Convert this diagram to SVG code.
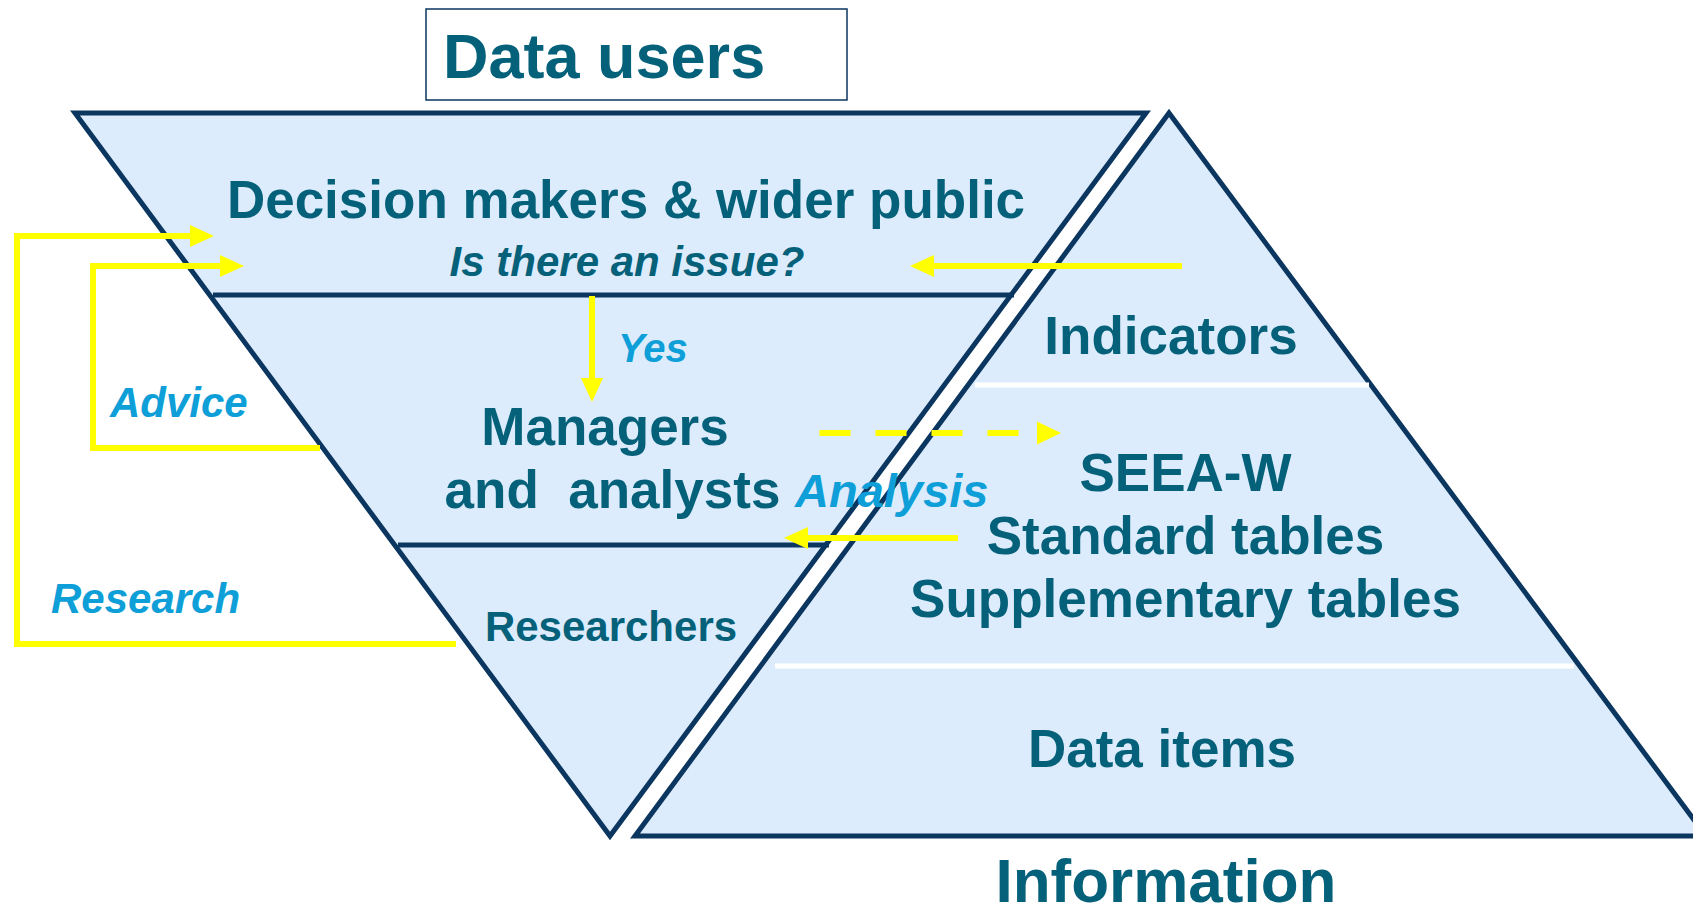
<svg xmlns="http://www.w3.org/2000/svg" width="1693" height="911" viewBox="0 0 1693 911">
<style>
.tri{fill:#DDECFC;stroke:#0B365F;stroke-width:5;stroke-linejoin:miter}
.sepd{stroke:#0B365F;stroke-width:5}
.sepw{stroke:#FFFFFF;stroke-width:5}
.t{font-family:"Liberation Sans",Arial,sans-serif;font-weight:bold;fill:#05617A}
.lbl{font-family:"Liberation Sans",Arial,sans-serif;font-weight:bold;font-style:italic;fill:#0E9FD8}
.y{fill:none;stroke:#FFFF00;stroke-width:6}
.ah{fill:#FFFF00}
</style>
<rect width="1693" height="911" fill="#FFFFFF"/>
<g id="title-users">
<rect x="426" y="9" width="421" height="91" fill="#FFFFFF" stroke="#0B365F" stroke-width="1.5"/>
<text class="t" x="443" y="78" font-size="63">Data users</text>
</g>
<g id="users-triangle">
<polygon class="tri" points="75,113 1146,113 610,836"/>
<line class="sepd" x1="213" y1="295" x2="1014" y2="295"/>
<line class="sepd" x1="398" y1="545" x2="829" y2="545"/>
</g>
<g id="info-triangle">
<polygon class="tri" points="1169,113 1706,836 635,836"/>
<line class="sepw" x1="975" y1="385" x2="1369" y2="385"/>
<line class="sepw" x1="775" y1="666" x2="1574" y2="666"/>
</g>
<g id="connectors">
<polyline class="y" points="456,644 17,644 17,236 192,236"/>
<polygon class="ah" points="214,236 190,225 190,247"/>
<polyline class="y" points="320,448 93,448 93,266 222,266"/>
<polygon class="ah" points="244,266 220,255 220,277"/>
<line class="y" x1="592" y1="296" x2="592" y2="380"/>
<polygon class="ah" points="592,402 581,378 603,378"/>
<line class="y" x1="1182" y1="266" x2="932" y2="266"/>
<polygon class="ah" points="910,266 934,255 934,277"/>
<line class="y" x1="958" y1="538" x2="806" y2="538"/>
<polygon class="ah" points="784,538 808,527 808,549"/>
<line class="y" x1="819.5" y1="433" x2="1019" y2="433" stroke-dasharray="31 25"/>
<polygon class="ah" points="1061,433 1037,421.5 1037,444.5"/>
</g>
<g id="decision-makers">
<text class="t" x="626" y="218" font-size="53" text-anchor="middle">Decision makers &amp; wider public</text>
<text class="t" x="627" y="276" font-size="42" font-style="italic" text-anchor="middle">Is there an issue?</text>
</g>
<g id="managers">
<text class="t" x="605" y="445" font-size="53" text-anchor="middle">Managers</text>
<text class="t" x="612.5" y="508" font-size="53" text-anchor="middle">and&#160; analysts</text>
</g>
<g id="researchers">
<text class="t" x="611" y="641" font-size="42" text-anchor="middle">Researchers</text>
</g>
<g id="indicators">
<text class="t" x="1171" y="354" font-size="53" text-anchor="middle">Indicators</text>
</g>
<g id="seea-w">
<text class="t" x="1185.5" y="491" font-size="53" text-anchor="middle">SEEA-W</text>
<text class="t" x="1185.5" y="554" font-size="53" text-anchor="middle">Standard tables</text>
<text class="t" x="1185.5" y="617" font-size="53" text-anchor="middle">Supplementary tables</text>
</g>
<g id="data-items">
<text class="t" x="1162" y="767" font-size="53" text-anchor="middle">Data items</text>
</g>
<g id="title-information">
<text class="t" x="1166" y="902" font-size="62" text-anchor="middle">Information</text>
</g>
<g id="labels">
<text class="lbl" x="618" y="362" font-size="40">Yes</text>
<text class="lbl" x="110" y="417" font-size="42">Advice</text>
<text class="lbl" x="51" y="613" font-size="42">Research</text>
<text class="lbl" x="795" y="507" font-size="47">Analysis</text>
</g>
</svg>
